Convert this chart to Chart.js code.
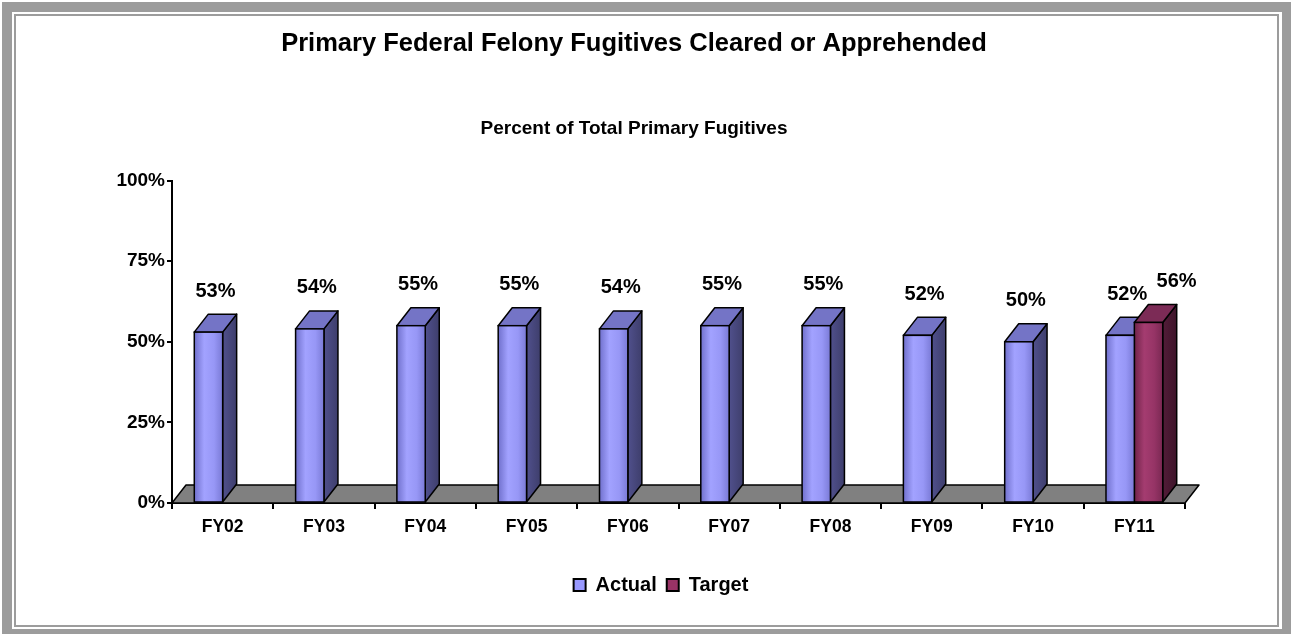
<!DOCTYPE html>
<html>
<head>
<meta charset="utf-8">
<script src="https://cdn.jsdelivr.net/npm/chart.js@4.4.1/dist/chart.umd.min.js"></script>
<style>
  html, body { margin: 0; padding: 0; background: #fff; }
  canvas { display: block; }
</style>
</head>
<body>
<canvas id="myChart" width="1291" height="634"></canvas>
<script>
const labels = ["FY02", "FY03", "FY04", "FY05", "FY06", "FY07", "FY08", "FY09", "FY10", "FY11"];
const actual = [53, 54, 55, 55, 54, 55, 55, 52, 50, 52];
const target = [null, null, null, null, null, null, null, null, null, 56];
const seriesNames = ["Actual", "Target"];

const FONT = "'Liberation Sans', Arial, sans-serif";
const DX = 14, DY = 18;

// colours for the 3d faces of each series
const faces = [
  { top: "#7474c6", side: ["#50508c", "#3e3e6c"], front: ["#7070cc", "#a2a2ff", "#9797f6", "#7a7ad6"], labelShift: 7 },
  { top: "#7c2b56", side: ["#521c38", "#3e142a"], front: ["#702449", "#a43c70", "#963466", "#7a2852"], labelShift: 28 }
];

function poly(ctx, pts, fill) {
  ctx.beginPath();
  ctx.moveTo(pts[0][0], pts[0][1]);
  for (let i = 1; i < pts.length; i++) ctx.lineTo(pts[i][0], pts[i][1]);
  ctx.closePath();
  ctx.fillStyle = fill;
  ctx.fill();
  ctx.stroke();
}

const frame = {
  id: "frame",
  beforeDraw(chart) {
    const c = chart.ctx;
    c.save();
    c.fillStyle = "#fff";
    c.fillRect(0, 0, chart.width, chart.height);
    c.fillStyle = "#9c9c9c";
    c.fillRect(2, 2, 1289, 632);
    c.fillStyle = "#fff";
    c.fillRect(12, 12, 1270, 617);
    c.strokeStyle = "#9c9c9c";
    c.lineWidth = 2;
    c.strokeRect(15, 15, 1263, 611);
    c.restore();
  }
};

const bars3d = {
  id: "bars3d",
  afterLayout(chart) {
    // legend sits a bit right of centre in the original
    chart.legend.left += 27;
    chart.legend.right += 27;
  },
  beforeDatasetsDraw(chart) {
    const { ctx, chartArea: a } = chart;
    ctx.save();
    ctx.lineWidth = 1.5;
    ctx.strokeStyle = "#000";
    ctx.lineJoin = "round";
    // floor
    poly(ctx, [[a.left, a.bottom], [a.left + DX, a.bottom - DY], [a.right + DX, a.bottom - DY], [a.right, a.bottom]], "#808080");
    chart.data.datasets.forEach((ds, i) => {
      const meta = chart.getDatasetMeta(i);
      meta.data.forEach((bar, j) => {
        if (ds.data[j] == null) return;
        const p = bar.getProps(["x", "y", "base", "width"], true);
        const l = p.x - p.width / 2, r = p.x + p.width / 2;
        const g = ctx.createLinearGradient(r, 0, r + DX, 0);
        g.addColorStop(0, faces[i].side[0]);
        g.addColorStop(1, faces[i].side[1]);
        poly(ctx, [[r, p.y], [r + DX, p.y - DY], [r + DX, p.base - DY], [r, p.base]], g);
        poly(ctx, [[l, p.y], [l + DX, p.y - DY], [r + DX, p.y - DY], [r, p.y]], faces[i].top);
      });
    });
    ctx.restore();
  },
  afterDatasetDraw(chart, args) {
    const ctx = chart.ctx;
    const i = args.index;
    const ds = chart.data.datasets[i];
    ctx.save();
    ctx.lineWidth = 1.5;
    ctx.strokeStyle = "#000";
    args.meta.data.forEach((bar, j) => {
      if (ds.data[j] == null) return;
      const p = bar.getProps(["x", "y", "base", "width"], true);
      const l = p.x - p.width / 2;
      const g = ctx.createLinearGradient(l, 0, l + p.width, 0);
      const f = faces[i].front;
      g.addColorStop(0, f[0]);
      g.addColorStop(0.35, f[1]);
      g.addColorStop(0.7, f[2]);
      g.addColorStop(1, f[3]);
      ctx.fillStyle = g;
      ctx.fillRect(l, p.y, p.width, p.base - p.y);
      ctx.strokeRect(l, p.y, p.width, p.base - p.y);
    });
    ctx.restore();
  },
  afterDatasetsDraw(chart) {
    const ctx = chart.ctx;
    ctx.save();
    ctx.font = "bold 20px " + FONT;
    ctx.fillStyle = "#000";
    ctx.textAlign = "center";
    ctx.textBaseline = "middle";
    chart.data.datasets.forEach((ds, i) => {
      chart.getDatasetMeta(i).data.forEach((bar, j) => {
        const v = ds.data[j];
        if (v == null) return;
        ctx.fillText(v + "%", bar.x + faces[i].labelShift, bar.y - 41);
      });
    });
    ctx.restore();
  }
};

const data = {
  labels: labels,
  datasets: [
    {
      label: seriesNames[0],
      data: actual,
      backgroundColor: "#9999ff",
      borderColor: "#000",
      borderWidth: 2
    },
    {
      label: seriesNames[1],
      data: target,
      backgroundColor: "#993366",
      borderColor: "#000",
      borderWidth: 2
    }
  ]
};

const config = {
  type: "bar",
  data: data,
  plugins: [frame, bars3d],
  options: {
    responsive: false,
    animation: false,
    devicePixelRatio: 1,
    categoryPercentage: 0.56,
    barPercentage: 1,
    layout: { padding: { left: 83, right: 106, top: 0, bottom: 29 } },
    plugins: {
      title: {
        display: true,
        text: "Primary Federal Felony Fugitives Cleared or Apprehended",
        color: "#000",
        font: { family: FONT, size: 25.5, weight: "bold" },
        padding: { top: 29, bottom: 0 }
      },
      subtitle: {
        display: true,
        text: "Percent of Total Primary Fugitives",
        color: "#000",
        font: { family: FONT, size: 19, weight: "bold" },
        padding: { top: 57.6, bottom: 40.6 }
      },
      legend: {
        position: "bottom",
        labels: {
          color: "#000",
          boxWidth: 12,
          boxHeight: 12,
          padding: 10,
          font: { family: FONT, size: 20, weight: "bold" }
        }
      },
      tooltip: { enabled: false }
    },
    scales: {
      x: {
        grid: { display: true, drawOnChartArea: false, drawTicks: true, tickLength: 6, color: "#000", lineWidth: 2, offset: true },
        border: { display: true, color: "#000", width: 2 },
        ticks: { color: "#000", font: { family: FONT, size: 17.5, weight: "bold" }, padding: 8, maxRotation: 0 },
        afterFit(s) { s.height = 62; }
      },
      y: {
        min: 0,
        max: 100,
        ticks: {
          stepSize: 25,
          color: "#000",
          padding: 2,
          font: { family: FONT, size: 19, weight: "bold" },
          callback: (v) => v + "%"
        },
        grid: { drawOnChartArea: false, drawTicks: true, tickLength: 5, color: "#000", lineWidth: 2 },
        border: { display: true, color: "#000", width: 2 },
        afterFit(s) { s.width = 89; }
      }
    }
  }
};

var myChart = new Chart(document.getElementById("myChart"), config);
</script>
</body>
</html>
